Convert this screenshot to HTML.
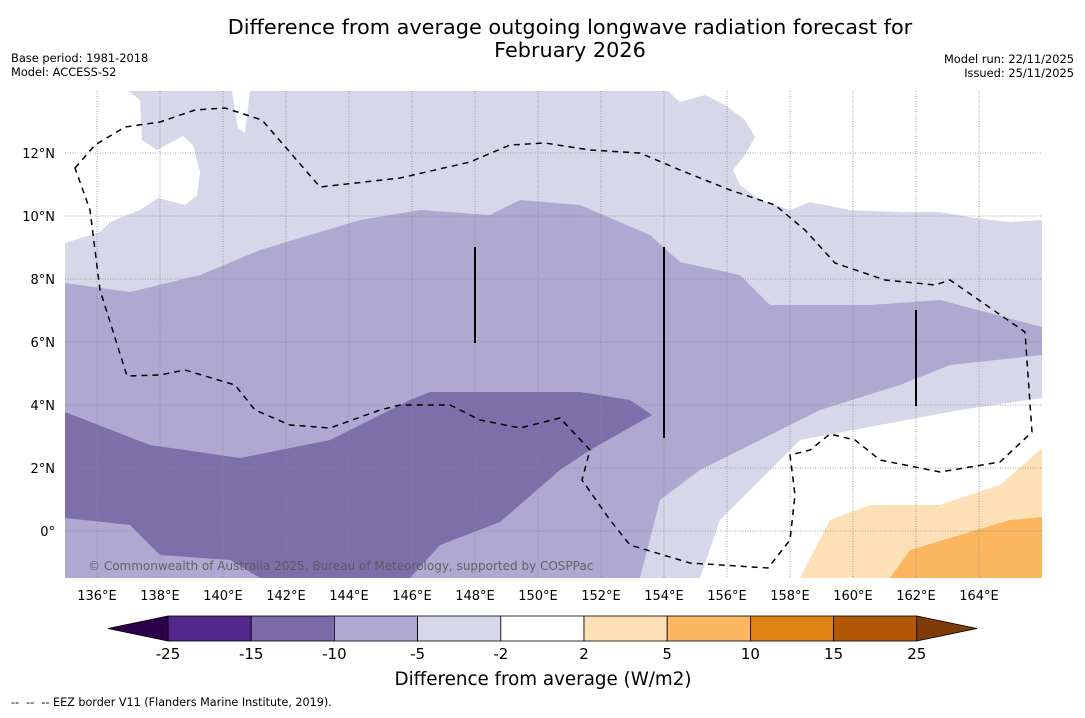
<!DOCTYPE html>
<html><head><meta charset="utf-8"><style>
body{margin:0;background:#fff;font-family:"Liberation Sans","DejaVu Sans",sans-serif;}
svg text{font-family:"DejaVu Sans","Liberation Sans",sans-serif;}
</style></head><body>
<svg width="1085" height="713" viewBox="0 0 1085 713" xmlns="http://www.w3.org/2000/svg">
<text x="570" y="34" text-anchor="middle" font-size="20.8">Difference from average outgoing longwave radiation forecast for</text>
<text x="570" y="57" text-anchor="middle" font-size="20.8">February 2026</text>
<text x="11" y="62" font-size="11.4">Base period: 1981-2018</text>
<text x="11" y="76" font-size="11.4">Model: ACCESS-S2</text>
<text x="1074" y="63" font-size="11.4" text-anchor="end">Model run: 22/11/2025</text>
<text x="1074" y="77" font-size="11.4" text-anchor="end">Issued: 25/11/2025</text>
<defs><clipPath id="mc"><rect x="65" y="91" width="977" height="487"/></clipPath></defs>
<g clip-path="url(#mc)">
<rect x="65" y="91" width="977" height="487" fill="#d7d7ea"/>
<path d="M65,91 L128,91 L140,100 L142,140 L157,150 L183,136 L193,145 L200,172 L197,195 L185,205 L158,198 L140,210 L110,222 L100,232 L65,243 Z" fill="#fff"/>
<path d="M232,91 L250,91 L245,133 L238,128 Z" fill="#fff"/>
<path d="M668,91 L1042,91 L1042,220 L1010,222 L975,218 L940,212 L900,212 L850,210 L810,202 L790,210 L775,205 L760,200 L740,185 L733,170 L745,155 L755,137 L745,120 L725,105 L705,95 L680,102 Z" fill="#fff"/>
<path d="M1042,398 L960,410 L880,425 L800,440 L760,480 L720,520 L700,578 L1042,578 Z" fill="#fff"/>
<path d="M65,283 L130,292 L200,275 L260,250 L360,220 L420,210 L490,215 L520,200 L580,205 L650,235 L680,262 L740,275 L770,305 L830,305 L870,305 L940,300 L1042,327 L1042,355 L950,365 L900,385 L820,410 L760,440 L700,470 L660,500 L640,578 L65,578 Z" fill="#afa9d1"/>
<path d="M65,412 L150,445 L240,458 L330,440 L410,400 L430,392 L580,392 L630,400 L652,415 L590,450 L560,470 L500,522 L440,545 L410,578 L260,578 L230,560 L160,555 L130,525 L65,518 Z" fill="#7d70aa"/>
<path d="M800,578 L830,520 L870,505 L940,505 L1000,485 L1042,448 L1042,578 Z" fill="#fde0b6"/>
<path d="M890,578 L910,550 L960,535 L1010,520 L1042,517 L1042,578 Z" fill="#fbb65f"/>
<g id="grid" stroke="#888" stroke-width="0.8" stroke-dasharray="1,1.5"></g>
<path d="M75,168 L95,145 L125,127 L160,122 L195,110 L225,108 L262,120 L320,187 L400,178 L470,162 L510,145 L545,143 L590,150 L640,153 L680,170 L730,190 L775,205 L805,230 L835,263 L885,280 L935,285 L950,280 L1025,332 L1032,432 L1000,462 L940,472 L880,460 L855,440 L830,434 L810,450 L790,455 L795,495 L790,540 L768,568 L690,563 L630,545 L610,520 L582,480 L590,450 L560,418 L520,428 L480,420 L450,405 L400,405 L380,410 L330,428 L290,425 L255,410 L235,385 L185,370 L160,375 L127,376 L100,290 L90,210 Z" fill="none" stroke="#000" stroke-width="1.5" stroke-dasharray="6,5"/>
<g stroke="#000" stroke-width="2">
<line x1="475" y1="247" x2="475" y2="343"/><line x1="664" y1="247" x2="664" y2="438"/><line x1="916" y1="310" x2="916" y2="406"/></g>
<text x="88" y="570" font-size="12" fill="#555" opacity="0.85">© Commonwealth of Australia 2025, Bureau of Meteorology, supported by COSPPac</text>
</g>
<g id="axes" font-size="13"></g>
<g id="cbar"></g>
<text x="543" y="685" text-anchor="middle" font-size="18.3">Difference from average (W/m2)</text>
<text x="11" y="706" font-size="11.2" xml:space="preserve" style="white-space:pre">--  --  -- EEZ border V11 (Flanders Marine Institute, 2019).</text>
</svg>
<script>
const lonTicks=[136,138,140,142,144,146,148,150,152,154,156,158,160,162,164];
const latTicks=[0,2,4,6,8,10,12];
const levels=[-25,-15,-10,-5,-2,2,5,10,15,25];
const colors=["#54278f","#7b6ba8","#afa9d1","#d7d7ea","#ffffff","#fde0b6","#fbb65f","#e08214","#b35806"];
const X=l=>65.5+(l-135)*31.5, Y=a=>531-a*31.5;
const NS="http://www.w3.org/2000/svg";
function mk(t,a,p){const e=document.createElementNS(NS,t);for(const k in a)e.setAttribute(k,a[k]);p.appendChild(e);return e;}
const g=document.getElementById('grid'),ax=document.getElementById('axes'),cb=document.getElementById('cbar');
lonTicks.forEach(l=>{const ln=mk('line',{x1:X(l),x2:X(l),y1:91,y2:578},g);


const t=mk('text',{x:X(l),y:600,'text-anchor':'middle'},ax);t.textContent=l+'°E';

});
latTicks.forEach(a=>{const ln=mk('line',{x1:65,x2:1042,y1:Y(a),y2:Y(a)},g);


const t=mk('text',{x:55,y:Y(a)+5,'text-anchor':'end'},ax);t.textContent=a===0?'0°':a+'°N';

});
const cx0=168,cw=83.2,cy=616,ch=25;
colors.forEach((c,i)=>{const r=mk('rect',{x:cx0+i*cw,y:cy,width:cw,height:ch,fill:c,stroke:'#000','stroke-width':0.8},cb);

});
const p1=mk('polygon',{points:`${cx0},${cy} ${cx0},${cy+ch} 108,${cy+ch/2}`,fill:'#2d004b',stroke:'#000','stroke-width':0.8},cb);


const xe=cx0+9*cw;
const p2=mk('polygon',{points:`${xe},${cy} ${xe},${cy+ch} 977,${cy+ch/2}`,fill:'#7f3b08',stroke:'#000','stroke-width':0.8},cb);


levels.forEach((v,i)=>{const t=mk('text',{x:cx0+i*cw,y:659,'text-anchor':'middle','font-size':15},cb);t.textContent=v;

});
</script>
</body></html>
